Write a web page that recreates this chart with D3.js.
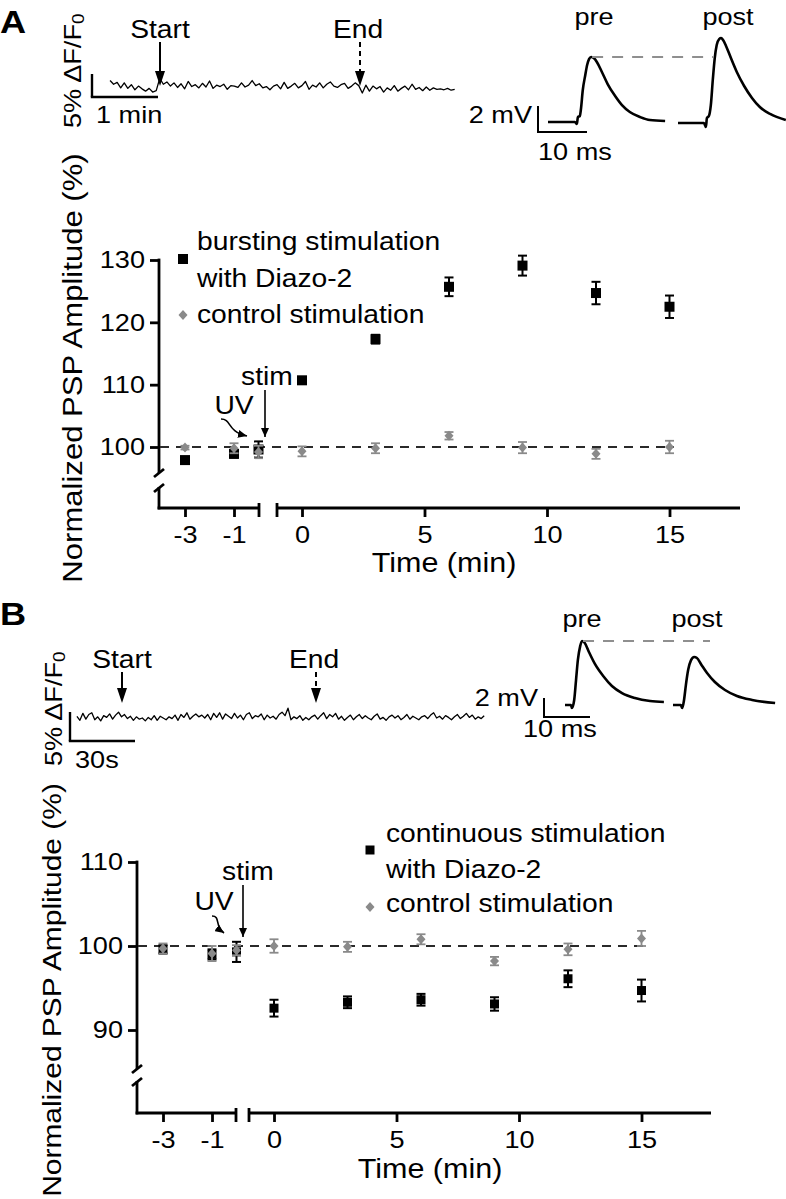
<!DOCTYPE html>
<html><head><meta charset="utf-8">
<script src="https://cdn.jsdelivr.net/npm/d3@7"></script>
<style>body{margin:0;background:#fff}svg{display:block}</style>
</head><body><svg id="c" width="786" height="1199"></svg>
<script>
// ---------------- DATA ----------------
const timesPre = [-3, -1, 0];
const timesPost = [0, 3, 6, 9, 12, 15];
const xTicksPre = [-3, -1];
const xTicksPost = [0, 5, 10, 15];

// Panel A
const yTicksA = [100, 110, 120, 130];
const burstPre = [97.9, 98.9, 99.6];
const burstPreErr = [0.5, 0.6, 1.3];
const burstPost = [110.7, 117.3, 125.7, 129.1, 124.7, 122.5];
const burstPostErr = [0.4, 0.7, 1.5, 1.6, 1.8, 1.8];
const ctrlPreA = [99.9, 99.8, 99.2];
const ctrlPreAErr = [0.3, 0.8, 1.0];
const ctrlPostA = [99.3, 99.8, 101.8, 99.9, 98.9, 100.0];
const ctrlPostAErr = [0.8, 0.8, 0.6, 0.9, 0.8, 1.0];

// Panel B
const yTicksB = [90, 100, 110];
const contPre = [99.6, 99.0, 99.3];
const contPreErr = [0.5, 0.6, 1.2];
const contPost = [92.6, 93.3, 93.6, 93.1, 96.1, 94.7];
const contPostErr = [1.0, 0.7, 0.7, 0.8, 1.0, 1.3];
const ctrlPreB = [99.7, 99.1, 99.5];
const ctrlPreBErr = [0.6, 0.9, 0.6];
const ctrlPostB = [100.0, 99.9, 100.8, 98.2, 99.6, 100.9];
const ctrlPostBErr = [0.8, 0.6, 0.6, 0.5, 0.7, 0.9];

const legendA = ["bursting stimulation", "with Diazo-2", "control stimulation"];
const legendB = ["continuous stimulation", "with Diazo-2", "control stimulation"];

// Calcium traces (ΔF/F0, %), sampled at fixed interval
const traceA = [
1.4,0.6,1.0,-0.2,0.9,-0.3,0.5,-0.6,0.2,-0.4,
-0.9,-0.3,-1.1,-0.8,1.9,0.6,1.1,0.2,0.9,-0.1,
0.7,-0.4,1.2,0.1,0.5,-0.2,0.8,0.0,1.3,-0.3,
0.4,0.1,0.6,-0.5,0.3,0.2,-0.1,0.9,0.0,0.4,
1.4,0.3,0.7,-0.2,0.1,-0.6,0.2,0.5,-0.4,1.0,
-0.3,0.2,0.8,-0.2,0.3,1.2,-0.5,0.4,0.0,0.9,
-0.2,0.6,1.1,0.2,-0.1,0.5,0.8,-0.3,0.2,0.9,
0.3,-1.3,0.4,-0.9,0.2,-0.4,0.1,-1.1,-0.2,-0.7,
0.3,-0.9,-0.3,0.2,-0.6,0.6,-0.5,-0.1,-0.8,0.0,
-0.7,-0.2,-0.5,-0.4,-0.6,-0.3,-0.7,-0.5];
const traceAStart = 16.4, traceADt = 3.23; // s
const traceB = [
0.3,-0.4,0.8,-0.2,0.6,0.9,-0.3,0.2,-0.5,0.4,
0.1,0.7,-0.2,0.5,1.0,0.2,0.6,-0.1,0.3,-0.4,
0.2,-0.2,0.0,-0.5,0.1,-0.3,0.4,-0.4,0.3,0.0,
-0.3,0.2,-0.1,0.5,-0.4,0.6,0.1,0.9,-0.2,0.3,
0.7,0.2,0.5,0.0,0.6,-0.3,0.8,0.1,0.9,-0.2,
0.7,0.3,-0.1,0.8,0.0,0.5,-0.3,0.6,0.9,-0.1,
0.4,0.2,0.7,-0.3,0.5,0.0,0.3,-0.2,0.6,1.0,
0.4,1.7,-0.3,0.2,-0.1,0.4,-0.4,0.1,-0.3,0.2,
0.5,-0.2,0.4,0.9,-0.1,0.6,0.2,0.8,-0.2,0.3,
-0.4,0.1,0.5,-0.3,0.2,0.6,-0.1,0.4,0.0,-0.3,
0.3,0.7,-0.2,0.1,-0.4,0.2,0.5,0.0,0.4,-0.3,
0.1,0.6,-0.2,0.3,0.0,-0.3,0.2,0.4,-0.1,0.5,
0.9,0.0,0.3,-0.2,0.4,0.1,-0.3,0.2,0.6,-0.1,
0.3,0.8,0.1,0.5,-0.2,0.2,-0.1,0.4];
const traceBStart = 3.2, traceBDt = 1.372; // s

// EPSP traces (ms, mV)
const epspApreT  = [0,5.5,5.9,6.1,6.5,6.7,7.1,7.6,8.0,8.4,8.8,9.4,10.0,11.0,12.2,13.7,15.1,16.7,18.8,20.8,23.9];
const epspApreV  = [0,0,-0.15,0.38,0.46,0.92,2.46,3.6,4.4,4.85,5.0,4.9,4.6,3.85,2.9,2.0,1.3,0.77,0.38,0.15,0.08];
const epspApostT = [0,5.3,5.7,5.9,6.3,6.7,7.1,7.5,7.9,8.4,8.8,9.2,9.8,10.8,12.0,13.5,15.1,16.7,18.8,22.0];
const epspApostV = [-0.08,-0.08,-0.38,0.31,0.46,1.3,3.23,4.92,5.92,6.38,6.46,6.31,5.85,4.92,3.85,2.77,1.85,1.15,0.62,0.15];
const epspBpreT  = [0,1.3,1.5,2.0,2.4,2.8,3.3,3.7,4.3,5.2,6.5,8.3,10.2,12.4,15.2,18.5,21.5];
const epspBpreV  = [0,0,-0.32,0.53,2.63,4.74,6.2,6.74,6.53,5.58,4.32,3.05,2.0,1.26,0.74,0.42,0.32];
const epspBpostT = [0,1.7,2.0,2.4,2.8,3.3,3.9,4.6,5.2,6.1,7.4,9.1,11.3,13.9,17.2,22.2];
const epspBpostV = [0,0,-0.32,0.53,2.1,3.7,4.7,5.05,4.95,4.3,3.37,2.42,1.58,0.95,0.53,0.21];

// ---------------- DRAWING ----------------
const SX = 1.13;
const FONT = "'Liberation Sans', Arial, Helvetica, sans-serif";
const svg = d3.select("#c").attr("font-family", FONT);
const defs = svg.append("defs");
defs.append("marker").attr("id","ah").attr("markerUnits","userSpaceOnUse")
  .attr("markerWidth",9).attr("markerHeight",8).attr("refX",9).attr("refY",4).attr("orient","auto")
  .append("path").attr("d","M0,0 L9,4 L0,8 Z").attr("fill","#000");

function txt(g, x, y, s, size, anchor, weight, rot) {
  return g.append("text")
    .attr("transform", `translate(${x},${y})` + (rot ? ` rotate(${rot})` : "") + ` scale(${SX},1)`)
    .attr("font-size", size).attr("text-anchor", anchor || "start")
    .attr("font-weight", weight || "normal").attr("fill", "#000").text(s);
}
function line(g, x1, y1, x2, y2, w, col, dash) {
  const l = g.append("line").attr("x1",x1).attr("y1",y1).attr("x2",x2).attr("y2",y2)
    .attr("stroke", col || "#000").attr("stroke-width", w || 2.8);
  if (dash) l.attr("stroke-dasharray", dash);
  return l;
}
function fatArrow(g, x, y1, y2, dashed) {
  line(g, x, y1, x, y2 - 14, 2, "#000", dashed ? "5,4" : null);
  g.append("path").attr("d", `M${x-5},${y2-15} L${x+5},${y2-15} L${x},${y2} Z`).attr("fill","#000");
}
function label(g, x, y, size) {
  const t = g.append("text").attr("transform", `translate(${x},${y}) rotate(-90) scale(${SX},1)`)
    .attr("font-size", size).attr("fill","#000");
  t.append("tspan").text("5% \u0394F/F");
  t.append("tspan").attr("font-size", size*0.7).attr("dy", size*0.12).text("0");
}

// ---- calcium trace ----
function calcium(cfg) {
  const g = svg.append("g");
  const x = d3.scaleLinear().domain([0, cfg.barSec]).range([cfg.barX, cfg.barX + cfg.barW]);
  const y = d3.scaleLinear().domain([0, 5]).range([cfg.base, cfg.base - cfg.barH]);
  g.append("path").datum(cfg.data)
    .attr("d", d3.line().x((d,i) => x(cfg.t0 + i*cfg.dt)).y(d => y(d)))
    .attr("fill","none").attr("stroke","#000").attr("stroke-width",1.3).attr("stroke-linejoin","round");
  // scale bar
  line(g, cfg.barX, cfg.barBottom, cfg.barX, cfg.barBottom - cfg.barH, 2.4);
  line(g, cfg.barX - 1.2, cfg.barBottom, cfg.barX + cfg.barW, cfg.barBottom, 2.4);
  label(g, cfg.labX, cfg.labY, 24);
  txt(g, cfg.timeX, cfg.timeY, cfg.timeText, 24);
  txt(g, cfg.startX, cfg.textY, "Start", 25, "middle");
  txt(g, cfg.endX - 2, cfg.textY, "End", 25, "middle");
  fatArrow(g, cfg.startX, cfg.textY + 4, cfg.arrowTip);
  fatArrow(g, cfg.endX, cfg.textY + 4, cfg.arrowTip, true);
}
calcium({data: traceA, t0: traceAStart, dt: traceADt, barSec: 60, barX: 92, barW: 66, base: 87,
  barH: 23, barBottom: 97, labX: 81, labY: 128, timeX: 96, timeY: 123, timeText: "1 min",
  startX: 160, endX: 360, textY: 38, arrowTip: 86});
calcium({data: traceB, t0: traceBStart, dt: traceBDt, barSec: 30, barX: 70, barW: 65, base: 718,
  barH: 29, barBottom: 741, labX: 62, labY: 766, timeX: 75, timeY: 768, timeText: "30s",
  startX: 122, endX: 316, textY: 668, arrowTip: 703});

// ---- EPSP traces ----
function epsp(cfg) {
  const g = svg.append("g");
  const y = d3.scaleLinear().domain([0, 2]).range([cfg.base, cfg.base - cfg.mv2]);
  const xs = o => d3.scaleLinear().domain([0, 10]).range([o, o + cfg.ms10]);
  const mk = (T, V, o) => {
    const x = xs(o);
    g.append("path").datum(T.map((t,i)=>[t,V[i]]))
      .attr("d", d3.line().curve(d3.curveMonotoneX).x(d=>x(d[0])).y(d=>y(d[1])))
      .attr("fill","none").attr("stroke","#000").attr("stroke-width",2.6).attr("stroke-linejoin","round");
    return x;
  };
  const xp = mk(cfg.preT, cfg.preV, cfg.preX);
  mk(cfg.postT, cfg.postV, cfg.postX);
  const iPk = cfg.preV.indexOf(d3.max(cfg.preV));
  line(g, xp(cfg.preT[iPk]) + 1, y(cfg.preV[iPk]), cfg.dashEnd, y(cfg.preV[iPk]), 2, "#8f8f8f", "11,9");
  // scale bar
  line(g, cfg.sbX, cfg.sbY, cfg.sbX, cfg.sbY - cfg.mv2, 2);
  line(g, cfg.sbX - 1, cfg.sbY, cfg.sbX + cfg.ms10, cfg.sbY, 2);
  txt(g, cfg.mvX, cfg.mvY, "2 mV", 24, "end");
  txt(g, cfg.msX, cfg.msY, "10 ms", 24);
  txt(g, cfg.preLx, cfg.lY, "pre", 24, "middle");
  txt(g, cfg.postLx, cfg.lY, "post", 24, "middle");
}
epsp({preT: epspApreT, preV: epspApreV, postT: epspApostT, postV: epspApostV,
  preX: 548, postX: 678, base: 122, mv2: 26, ms10: 49, dashEnd: 713,
  sbX: 538, sbY: 132, mvX: 532, mvY: 123, msX: 538, msY: 160, preLx: 594, postLx: 728, lY: 25});
epsp({preT: epspBpreT, preV: epspBpreV, postT: epspBpostT, postV: epspBpostV,
  preX: 565, postX: 673, base: 705, mv2: 19, ms10: 46, dashEnd: 710,
  sbX: 544, sbY: 717, mvX: 538, mvY: 706, msX: 523, msY: 737, preLx: 582, postLx: 697, lY: 627});

// ---- summary charts ----
function chart(cfg) {
  const g = svg.append("g");
  const {y, xPre, xPost, ax, ay} = cfg;
  // y axis with break
  line(g, ax, y.range()[1] - 1.4, ax, cfg.brk1, 2.8);
  line(g, ax - 5, cfg.brk1 + 4, ax + 5, cfg.brk1 - 4, 2.8);
  line(g, ax - 5, cfg.brk2 + 4, ax + 5, cfg.brk2 - 4, 2.8);
  line(g, ax, cfg.brk2 - 1, ax, ay + 1.4, 2.8);
  const yAx = g.append("g").attr("transform", `translate(${ax},0)`)
    .call(d3.axisLeft(y).tickValues(cfg.yTicks).tickSize(9).tickPadding(5).tickFormat(d3.format("d")));
  // x axis segments
  line(g, ax - 1.4, ay, cfg.preEnd, ay, 2.8);
  line(g, cfg.preEnd, ay - 5, cfg.preEnd, ay + 9, 2.8);
  line(g, cfg.postStart, ay, cfg.postEnd, ay, 2.8);
  line(g, cfg.postStart, ay - 5, cfg.postStart, ay + 9, 2.8);
  const xA1 = g.append("g").attr("transform", `translate(0,${ay})`)
    .call(d3.axisBottom(xPre).tickValues(xTicksPre).tickSize(9).tickPadding(9).tickFormat(d3.format("d")));
  const xA2 = g.append("g").attr("transform", `translate(0,${ay})`)
    .call(d3.axisBottom(xPost).tickValues(xTicksPost).tickSize(9).tickPadding(9).tickFormat(d3.format("d")));
  [yAx, xA1, xA2].forEach(a => {
    a.attr("font-family", null).attr("font-size", null).attr("color", "#000");
    a.select(".domain").remove();
    a.selectAll(".tick line").attr("stroke-width", 2.8);
    a.selectAll(".tick text").attr("font-size", 24).attr("transform", `scale(${SX},1)`);
  });
  yAx.selectAll(".tick text").attr("x", -14 / SX);
  xA1.selectAll(".tick text").text(d => d3.format("d")(d).replace("\u2212", "-"));
  // axis titles
  txt(g, cfg.tX, cfg.tY, "Time (min)", 27, "middle");
  txt(g, cfg.yLX, cfg.yLY, "Normalized PSP Amplitude (%)", cfg.yLSize, "middle", null, -90);
  // dashed 100 line
  line(g, ax + 1, y(100), cfg.dashEnd, y(100), 2.2, "#2a2a2a", "9,7");
  // data
  const pts = (T, V, E, xs) => T.map((t,i) => ({x: xs(t), v: V[i], e: E[i]}));
  const drawErr = (data, col, w) => data.forEach(d => {
    line(g, d.x, y(d.v - d.e), d.x, y(d.v + d.e), w, col);
    line(g, d.x - 4.5, y(d.v - d.e), d.x + 4.5, y(d.v - d.e), w, col);
    line(g, d.x - 4.5, y(d.v + d.e), d.x + 4.5, y(d.v + d.e), w, col);
  });
  const sq = cfg.sq;
  const blk = pts(timesPre, cfg.bPre, cfg.bPreE, xPre).concat(pts(timesPost, cfg.bPost, cfg.bPostE, xPost));
  const gry = pts(timesPre, cfg.cPre, cfg.cPreE, xPre).concat(pts(timesPost, cfg.cPost, cfg.cPostE, xPost));
  drawErr(blk, "#000", 2);
  g.selectAll(null).data(blk).join("rect")
    .attr("x", d => d.x - sq/2).attr("y", d => y(d.v) - sq/2).attr("width", sq).attr("height", sq).attr("fill", "#000");
  drawErr(gry, "#8a8a8a", 1.8);
  g.selectAll(null).data(gry).join("path")
    .attr("d", d => `M${d.x},${y(d.v)-5} L${d.x+4.5},${y(d.v)} L${d.x},${y(d.v)+5} L${d.x-4.5},${y(d.v)} Z`)
    .attr("fill", "#8a8a8a");
  // legend
  const L = cfg.leg;
  g.append("rect").attr("x", L.mx - sq/2).attr("y", L.sqY - sq/2).attr("width", sq).attr("height", sq).attr("fill","#000");
  g.append("path").attr("d", `M${L.mx},${L.dY-5} L${L.mx+4.5},${L.dY} L${L.mx},${L.dY+5} L${L.mx-4.5},${L.dY} Z`).attr("fill","#8a8a8a");
  cfg.legText.forEach((s, i) => txt(g, L.tx, L.ys[i], s, 25));
  // annotations
  const A = cfg.ann;
  txt(g, A.stimX, A.stimY, "stim", 25, "middle");
  txt(g, A.uvX, A.uvY, "UV", 25, "middle");
  g.append("line").attr("x1", A.sx).attr("y1", A.sy1).attr("x2", A.sx).attr("y2", A.sy2)
    .attr("stroke","#000").attr("stroke-width",1.6).attr("marker-end","url(#ah)");
  g.append("path").attr("d", A.uvPath).attr("fill","none")
    .attr("stroke","#000").attr("stroke-width",1.6).attr("marker-end","url(#ah)");
}

chart({
  y: d3.scaleLinear().domain([100,130]).range([447,260]),
  xPre: d3.scaleLinear().domain([-3,0]).range([185,258.5]),
  xPost: d3.scaleLinear().domain([0,15]).range([302,669.5]),
  ax: 159, ay: 508, brk1: 473, brk2: 488, preEnd: 259, postStart: 277, postEnd: 740,
  yTicks: yTicksA, tX: 444, tY: 572, yLX: 82, yLY: 368, yLSize: 27.5, dashEnd: 674, sq: 10,
  bPre: burstPre, bPreE: burstPreErr, bPost: burstPost, bPostE: burstPostErr,
  cPre: ctrlPreA, cPreE: ctrlPreAErr, cPost: ctrlPostA, cPostE: ctrlPostAErr,
  legText: legendA, leg: {mx: 183, sqY: 259, dY: 315, tx: 197, ys: [250, 287, 323]},
  ann: {stimX: 267, stimY: 385, uvX: 234, uvY: 414, sx: 265, sy1: 390, sy2: 437,
        uvPath: "M221,419 C232,419 226,431 247,436"}
});
chart({
  y: d3.scaleLinear().domain([90,110]).range([1030,862]),
  xPre: d3.scaleLinear().domain([-3,0]).range([163,236.5]),
  xPost: d3.scaleLinear().domain([0,15]).range([274,641.5]),
  ax: 137, ay: 1113, brk1: 1069, brk2: 1082, preEnd: 236, postStart: 249, postEnd: 711,
  yTicks: yTicksB, tX: 430, tY: 1178, yLX: 61, yLY: 990, yLSize: 26.5, dashEnd: 645, sq: 9,
  bPre: contPre, bPreE: contPreErr, bPost: contPost, bPostE: contPostErr,
  cPre: ctrlPreB, cPreE: ctrlPreBErr, cPost: ctrlPostB, cPostE: ctrlPostBErr,
  legText: legendB, leg: {mx: 370, sqY: 850, dY: 907, tx: 386, ys: [842, 878, 912]},
  ann: {stimX: 248, stimY: 880, uvX: 214, uvY: 910, sx: 243, sy1: 885, sy2: 937,
        uvPath: "M212,916 C221,916 214,926 224,933"}
});

// panel letters
txt(svg, 0, 33, "A", 32, "start", "bold");
txt(svg, 0, 625, "B", 32, "start", "bold");
</script></body></html>
